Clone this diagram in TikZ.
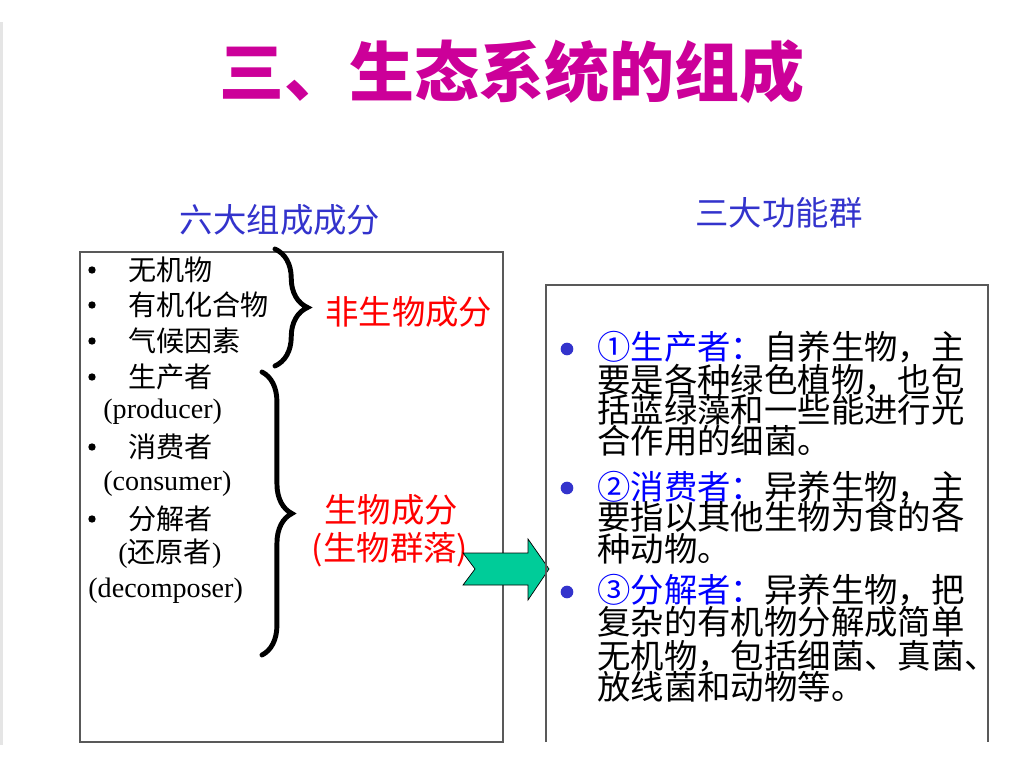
\documentclass[tikz,border=0pt]{standalone}
\usepackage{fontspec}
\setmainfont{Liberation Serif}
\newfontfamily\cjk{Noto Sans CJK SC}
\usetikzlibrary{decorations.pathreplacing}
\definecolor{titlemag}{RGB}{204,0,153}
\definecolor{headblue}{RGB}{51,51,204}
\definecolor{textblue}{RGB}{0,0,255}
\definecolor{labelred}{RGB}{255,0,0}
\definecolor{arrowgreen}{RGB}{0,204,153}
\newcommand{\grp}[1]{{\color{textblue}#1}}

\begin{document}
\begin{tikzpicture}[x=0.02cm, y=-0.02cm,
  boxline/.style={gray!70!black, line width=0.8pt},
  bracebig/.style={decorate, line width=2.8pt, line cap=round},
  ldot/.style={circle, fill=black, inner sep=0pt, minimum size=4.2pt},
  rdot/.style={circle, fill=headblue, inner sep=0pt, minimum size=7.2pt},
  litem/.style={anchor=west, inner sep=0pt, font=\cjk\fontsize{16}{16}\selectfont},
  lsub/.style={anchor=west, inner sep=0pt, font=\fontsize{16}{16}\selectfont},
  desc/.style={anchor=west, inner sep=0pt, font=\cjk\fontsize{19}{19}\selectfont},
  head/.style={inner sep=0pt, text=headblue, font=\cjk\fontsize{19}{19}\selectfont},
  redlab/.style={inner sep=0pt, text=labelred, font=\cjk\fontsize{19}{19}\selectfont}]
\useasboundingbox (0,0) rectangle (1021,757);

% ---- slide edge and title ----
\draw[gray!20, line width=2pt] (1.5,22) -- (1.5,745);
\node[inner sep=0pt, text=titlemag, font=\cjk\bfseries\fontsize{37}{37}\selectfont]
  (title) at (512,72) {三、生态系统的组成};

% ---- left: six components ----
\node[head] (lhead) at (280,220) {六大组成成分};
\draw[boxline] (80,252) rectangle (503,742);

\foreach \y/\txt [count=\i] in {270/无机物, 305/有机化合物, 341/气候因素,
  377/生产者, 447/消费者, 519/分解者}{
  \node[ldot] (b\i) at (92,\y) {};
  \node[litem] (c\i) at (128,\y) {\txt};
}
\node[lsub] (en1) at (103,412) {(producer)};
\node[lsub] (en2) at (103,484) {(consumer)};
\node[lsub] (en3) at (118,554) {({\cjk 还原者})};
\node[lsub] (en4) at (88,591) {(decomposer)};

\draw[bracebig, decoration={brace, amplitude=18.5pt}] (275,249) -- (275,366);
\draw[bracebig, decoration={brace, amplitude=17pt}] (262,372) -- (262,655);

\node[redlab, anchor=west] (abio) at (325,312) {非生物成分};
\node[redlab] (bio) at (391,510) {生物成分};
\node[redlab] (comm) at (390,550) {(生物群落)};

% ---- green block arrow ----
\filldraw[fill=arrowgreen, draw=black, line width=0.4pt]
  (463,553) -- (528,553) -- (528,539) -- (549,569) -- (528,600)
  -- (528,585) -- (463,585) -- (475,569) -- cycle;

% ---- right: three functional groups ----
\node[head] (rhead) at (779,213) {三大功能群};
\draw[boxline] (546,742) -- (546,285) -- (988,285) -- (988,742);

\foreach \y/\n in {349/1, 488/2, 592/3}
  \node[rdot] (d\n) at (567,\y) {};

\foreach \y/\txt [count=\i] in {
  347/{\grp{①生产者：}自养生物，主},
  380/要是各种绿色植物，也包,
  410/括蓝绿藻和一些能进行光,
  441/合作用的细菌。,
  487/{\grp{②消费者：}异养生物，主},
  517/要指以其他生物为食的各,
  549/种动物。,
  590/{\grp{③分解者：}异养生物，把},
  622/复杂的有机物分解成简单,
  656/无机物，包括细菌、真菌、,
  687/放线菌和动物等。}{
  \node[desc] (r\i) at (597,\y) {\txt};
}

\end{tikzpicture}
\end{document}
